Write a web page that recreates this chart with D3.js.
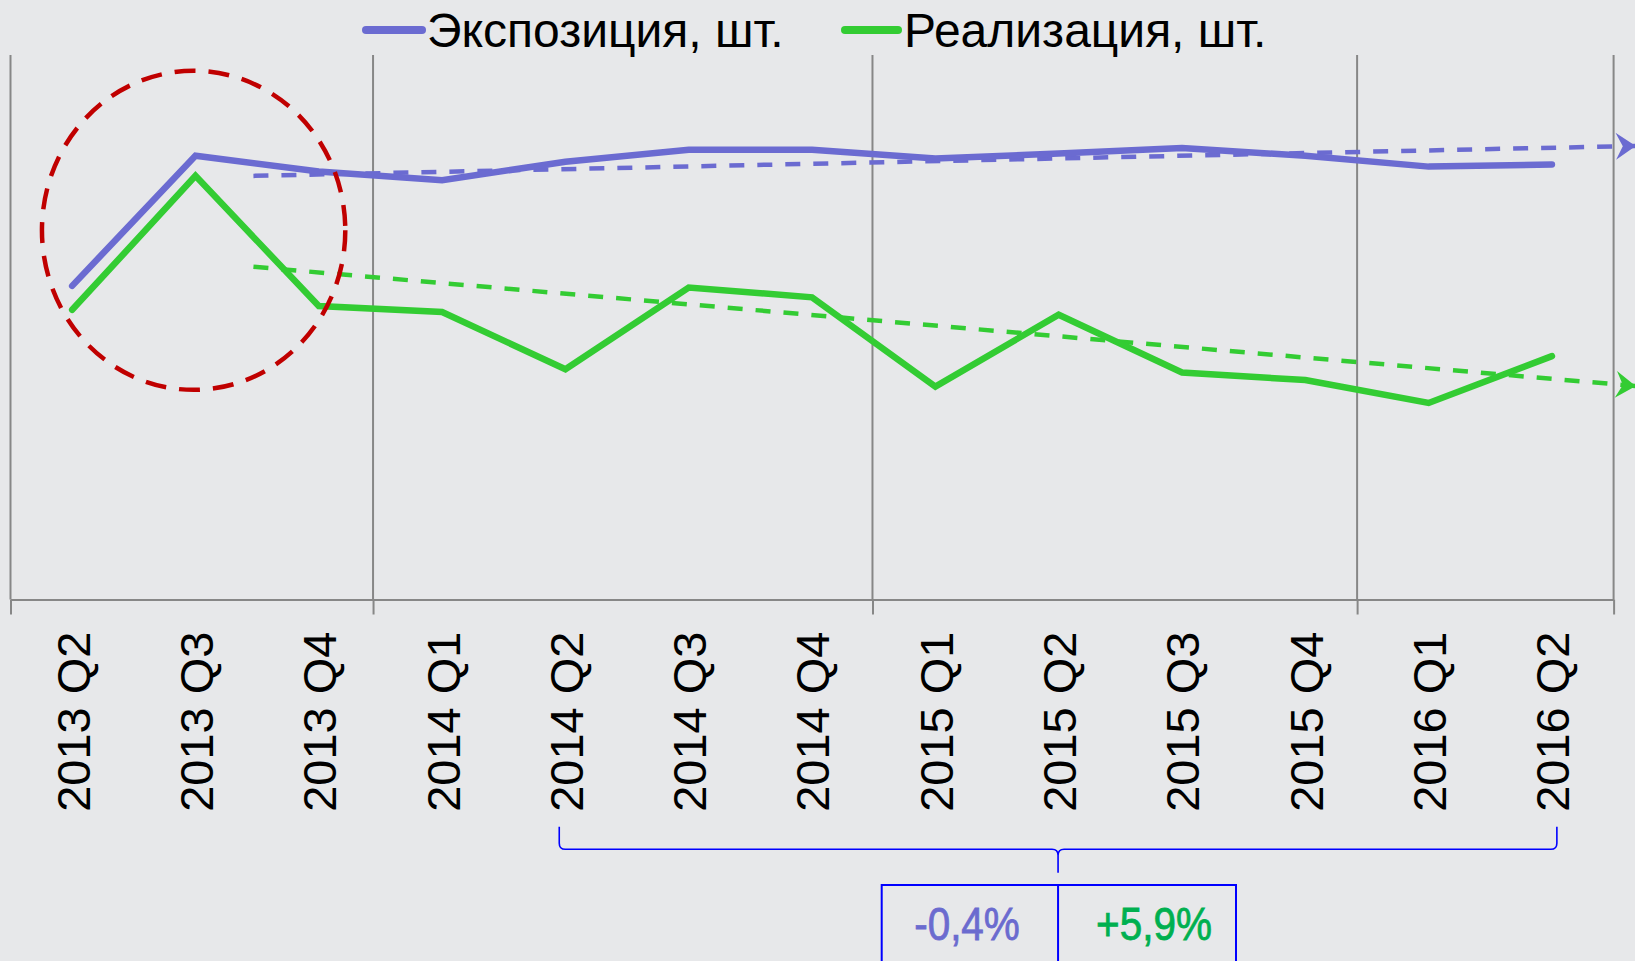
<!DOCTYPE html>
<html><head><meta charset="utf-8">
<script src="https://cdn.jsdelivr.net/npm/d3@7"></script>
<style>
html,body{margin:0;padding:0;background:#e7e8ea;overflow:hidden;}
svg{display:block;}
</style></head>
<body>
<script>
// ---- data ----
const categories = ["2013 Q2","2013 Q3","2013 Q4","2014 Q1","2014 Q2","2014 Q3","2014 Q4","2015 Q1","2015 Q2","2015 Q3","2015 Q4","2016 Q1","2016 Q2"];
const exposition = [57.6,81.5,78.6,77.0,80.4,82.6,82.6,81.0,81.9,82.9,81.5,79.5,79.9];
const sales      = [53.2,77.8,53.9,52.8,42.3,57.3,55.5,39.1,52.3,41.7,40.3,36.1,44.7];
const seriesNames = ["Экспозиция, шт.","Реализация, шт."];
// trend lines: [startIndex, startValue, endIndex, endValue]
const trendExposition = [1.47, 77.8, 12.68, 83.3];
const trendSales      = [1.47, 61.1, 12.68, 39.2];
// year separators (in category-index units)
const separators = [-0.5, 2.44, 6.49, 10.42, 12.5];
// highlight ellipse: [centerIndex, centerValue, radiusIndex, radiusValue]
const highlight = [0.985, 67.8, 1.23, 29.3];
// bracket range (category indices) and summary values
const bracketRange = [3.95, 12.04];
const summaryLabels = ["-0,4%","+5,9%"];

const W = 1635, H = 961;
const colors = {blue:"#6b6bd1", green:"#33cc33", blueText:"#6b6bcf", greenText:"#00b050", grid:"#878787", red:"#c00000", bracket:"#0000ff"};
const sans = "'Liberation Sans',Arial,sans-serif";

const svg = d3.select("body").append("svg").attr("width",W).attr("height",H);
svg.append("rect").attr("width",W).attr("height",H).attr("fill","#e7e8ea");

const x = d3.scaleLinear().domain([-0.5,12.5]).range([10.5,1613.6]);
const y = d3.scaleLinear().domain([0,100]).range([599.5,55]);

// markers
const defs = svg.append("defs");
function marker(id,color){
  defs.append("marker").attr("id",id).attr("markerUnits","userSpaceOnUse")
    .attr("viewBox","-22 -15 24 30").attr("refX",0).attr("refY",0)
    .attr("markerWidth",24).attr("markerHeight",30).attr("orient","auto")
    .append("path").attr("d","M0,0 L-20,-13.5 L-13,0 L-20,13.5 Z").attr("fill",color);
}
marker("arrB",colors.blue); marker("arrG",colors.green);

// vertical separators
svg.append("g").selectAll("line").data(separators).join("line")
  .attr("x1",d=>x(d)).attr("x2",d=>x(d)).attr("y1",y(100)).attr("y2",y(0))
  .attr("stroke",colors.grid).attr("stroke-width",2);

// x axis: baseline + separator ticks
const axisTicks = d3.axisBottom(x).tickValues(separators).tickSize(15).tickFormat("").tickSizeOuter(0);
const gT = svg.append("g").attr("transform",`translate(0,${y(0)})`).call(axisTicks);
gT.select(".domain").attr("stroke",colors.grid).attr("stroke-width",2);
gT.selectAll(".tick line").attr("stroke",colors.grid).attr("stroke-width",2);

// category labels
const axisLabels = d3.axisBottom(x).tickValues(d3.range(categories.length)).tickSize(0).tickFormat(i=>categories[i]);
const gL = svg.append("g").attr("transform",`translate(0,${y(0)})`).call(axisLabels);
gL.select(".domain").remove();
gL.selectAll(".tick text")
  .attr("transform","rotate(-90)")
  .attr("x",-32).attr("y",0).attr("dy","0.36em")
  .attr("text-anchor","end")
  .attr("font-family",sans).attr("font-size",47).attr("fill","#000");

// trend lines
function trend(t,color,mk){
  svg.append("line").attr("x1",x(t[0])).attr("y1",y(t[1])).attr("x2",x(t[2])).attr("y2",y(t[3]))
    .attr("stroke",color).attr("stroke-width",4.5).attr("stroke-dasharray","15 13")
    .attr("marker-end",`url(#${mk})`);
}
trend(trendExposition,colors.blue,"arrB");
trend(trendSales,colors.green,"arrG");

// series lines
const line = d3.line().x((d,i)=>x(i)).y(d=>y(d));
svg.append("path").datum(sales).attr("d",line).attr("fill","none")
  .attr("stroke",colors.green).attr("stroke-width",6.5).attr("stroke-linecap","round").attr("stroke-linejoin","miter");
svg.append("path").datum(exposition).attr("d",line).attr("fill","none")
  .attr("stroke",colors.blue).attr("stroke-width",6.5).attr("stroke-linecap","round").attr("stroke-linejoin","miter");

// highlight ellipse
svg.append("ellipse").attr("cx",x(highlight[0])).attr("cy",y(highlight[1]))
  .attr("rx",x(highlight[0]+highlight[2])-x(highlight[0]))
  .attr("ry",y(highlight[1]-highlight[3])-y(highlight[1]))
  .attr("fill","none").attr("stroke",colors.red).attr("stroke-width",4.5).attr("stroke-dasharray","21 13");

// legend
const legend = [
  {name:seriesNames[0], color:colors.blue, x1:366, x2:422, tx:427},
  {name:seriesNames[1], color:colors.green, x1:845, x2:898, tx:904}
];
const lg = svg.append("g");
legend.forEach(l=>{
  lg.append("line").attr("x1",l.x1).attr("x2",l.x2).attr("y1",30).attr("y2",30)
    .attr("stroke",l.color).attr("stroke-width",8).attr("stroke-linecap","round");
  lg.append("text").attr("x",l.tx).attr("y",46.5).text(l.name)
    .attr("font-family",sans).attr("font-size",48).attr("fill","#000");
});

// bracket
const bx0 = x(bracketRange[0]), bx1 = x(bracketRange[1]), bxm = x((bracketRange[0]+bracketRange[1])/2);
const yTop = 826.7, yMid = 849.3, ySpike = 872.7, r = 6;
const bp = d3.path();
bp.moveTo(bx0,yTop); bp.lineTo(bx0,yMid-r); bp.quadraticCurveTo(bx0,yMid,bx0+r,yMid);
bp.lineTo(bxm-r,yMid); bp.quadraticCurveTo(bxm,yMid,bxm,yMid+r); bp.lineTo(bxm,ySpike);
bp.moveTo(bxm,yMid+r); bp.quadraticCurveTo(bxm,yMid,bxm+r,yMid);
bp.lineTo(bx1-r,yMid); bp.quadraticCurveTo(bx1,yMid,bx1,yMid-r); bp.lineTo(bx1,yTop);
svg.append("path").attr("d",bp.toString()).attr("fill","none").attr("stroke",colors.bracket).attr("stroke-width",1.6);

// summary box
const boxL = 881.7, boxR = 1236, boxT = 885, boxMid = bxm;
svg.append("path").attr("d",`M${boxL},${H+5} L${boxL},${boxT} L${boxR},${boxT} L${boxR},${H+5} M${boxMid},${boxT} L${boxMid},${H+5}`)
  .attr("fill","none").attr("stroke",colors.bracket).attr("stroke-width",2);
const sumColors = [colors.blueText, colors.greenText];
summaryLabels.forEach((s,i)=>{
  const cx = i===0 ? 967 : 1154;
  svg.append("text").attr("transform",`translate(${cx},940) scale(0.87,1)`)
    .attr("text-anchor","middle").text(s)
    .attr("font-family",sans).attr("font-size",46.5).attr("fill",sumColors[i])
    .attr("stroke",sumColors[i]).attr("stroke-width",0.8);
});
</script>
</body></html>
